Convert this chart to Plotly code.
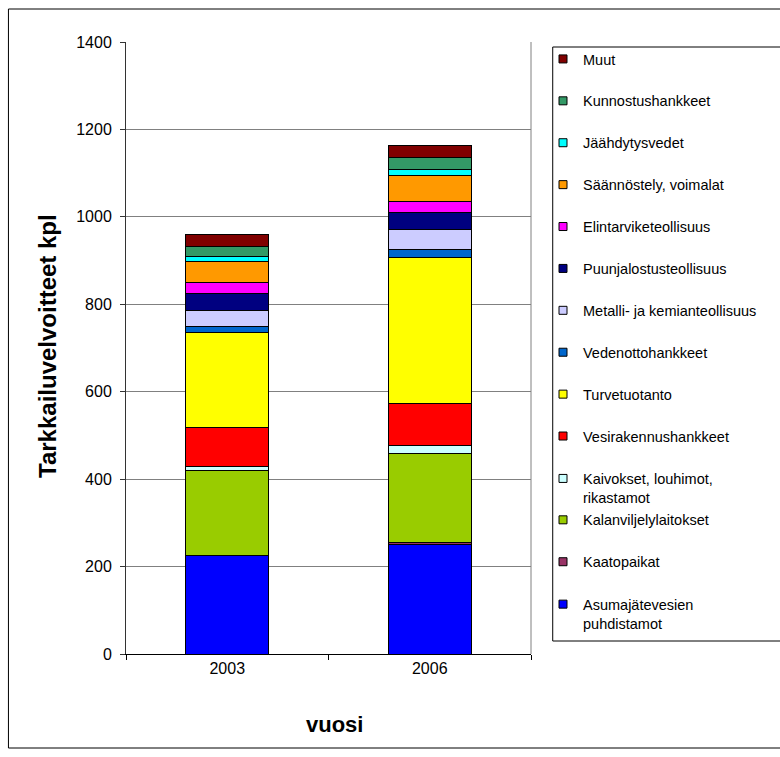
import plotly.graph_objects as go

# Survey year categories
years = ["2003", "2006"]

# Monitoring obligations per sector (count), stacked bottom -> top
asumajatevesien = [225, 250]
kaatopaikat = [1, 4]
kalanviljely = [194, 205]
kaivokset = [10, 19]
vesirakennus = [88, 94]
turvetuotanto = [217, 335]
vedenotto = [15, 19]
metalli_kemia = [36, 44]
puunjalostus = [38, 41]
elintarvike = [25, 25]
saannostely = [48, 58]
jaahdytysvedet = [13, 15]
kunnostus = [23, 26]
muut = [26, 29]

series = [
    ("Asumajätevesien<br>puhdistamot", asumajatevesien, "#0000FF"),
    ("Kaatopaikat", kaatopaikat, "#993366"),
    ("Kalanviljelylaitokset", kalanviljely, "#99CC00"),
    ("Kaivokset, louhimot,<br>rikastamot", kaivokset, "#CCFFFF"),
    ("Vesirakennushankkeet", vesirakennus, "#FF0000"),
    ("Turvetuotanto", turvetuotanto, "#FFFF00"),
    ("Vedenottohankkeet", vedenotto, "#0066CC"),
    ("Metalli- ja kemianteollisuus", metalli_kemia, "#CCCCFF"),
    ("Puunjalostusteollisuus", puunjalostus, "#000080"),
    ("Elintarviketeollisuus", elintarvike, "#FF00FF"),
    ("Säännöstely, voimalat", saannostely, "#FF9900"),
    ("Jäähdytysvedet", jaahdytysvedet, "#00FFFF"),
    ("Kunnostushankkeet", kunnostus, "#339966"),
    ("Muut", muut, "#800000"),
]

FONT = "Liberation Sans, Arial, sans-serif"
W, H = 780, 757
# plot area in pixels
PL, PR, PT, PB = 126, 536, 42, 654


def px_x(x):
    return (x - PL) / (PR - PL)


def px_y(y):
    return (PB - y) / (PB - PT)


fig = go.Figure()

for name, vals, color in series:
    fig.add_trace(go.Bar(
        x=years, y=vals, name=name,
        marker=dict(color=color, line=dict(color="#000000", width=1)),
        showlegend=False, width=0.41,
    ))

# Legend entries: one small legend per series, listed top (Muut) to bottom
layout_legends = {}
slot_top, slot_step = 59.0, 41.9
for i, (name, vals, color) in enumerate(reversed(series)):
    key = "legend" if i == 0 else f"legend{i + 1}"
    two_line = "<br>" in name
    yc = slot_top + slot_step * i + (10 if two_line else 0)
    fig.add_trace(go.Scatter(
        x=[None], y=[None], mode="markers", name=name, legend=key,
        marker=dict(symbol="square", size=8, color=color,
                    line=dict(color="#000000", width=1)),
        showlegend=True,
    ))
    layout_legends[key] = dict(
        xref="container", yref="container",
        x=543 / W, y=1 - yc / H, xanchor="left", yanchor="middle",
        bgcolor="rgba(0,0,0,0)", borderwidth=0, itemwidth=30,
        valign="top", font=dict(family=FONT, size=14.5, color="#000000"),
    )

fig.update_layout(
    width=W, height=H,
    barmode="stack",
    bargap=0.59,
    paper_bgcolor="#FFFFFF", plot_bgcolor="#FFFFFF",
    margin=dict(l=PL, r=W - PR, t=PT, b=H - PB, pad=0),
    font=dict(family=FONT, size=16, color="#000000"),
    xaxis=dict(
        type="category", showline=True, linecolor="#000000", linewidth=1,
        ticks="outside", tickson="boundaries", ticklen=5, tickcolor="#000000",
        tickfont=dict(size=16), showgrid=False,
    ),
    yaxis=dict(
        range=[0, 1400], dtick=200, showline=True, linecolor="#333333",
        linewidth=1, ticks="outside", ticklen=5, tickcolor="#333333",
        ticklabelstandoff=5, tickfont=dict(size=16),
        showgrid=True, gridcolor="#808080", gridwidth=1, zeroline=False,
    ),
    shapes=[
        # outer chart frame
        dict(type="rect", xref="paper", yref="paper",
             x0=px_x(7), x1=px_x(800), y0=px_y(748), y1=px_y(9),
             line=dict(color="#000000", width=1), fillcolor="rgba(0,0,0,0)",
             layer="below"),
        # right edge of plot area
        dict(type="line", xref="paper", yref="paper",
             x0=1, x1=1, y0=0, y1=1, line=dict(color="#808080", width=1)),
        # legend box
        dict(type="rect", xref="paper", yref="paper",
             x0=px_x(558), x1=px_x(800), y0=px_y(641), y1=px_y(47),
             line=dict(color="#000000", width=1), fillcolor="rgba(0,0,0,0)"),
    ],
    annotations=[
        dict(text="<b>Tarkkailuvelvoitteet kpl</b>", xref="paper", yref="paper",
             x=px_x(46), y=px_y(346), textangle=-90, showarrow=False,
             font=dict(family=FONT, size=24, color="#000000"),
             xanchor="center", yanchor="middle"),
        dict(text="<b>vuosi</b>", xref="paper", yref="paper",
             x=px_x(337), y=px_y(724), showarrow=False,
             font=dict(family=FONT, size=22, color="#000000"),
             xanchor="center", yanchor="middle"),
    ],
    **layout_legends,
)

fig.write_html("out.html")
